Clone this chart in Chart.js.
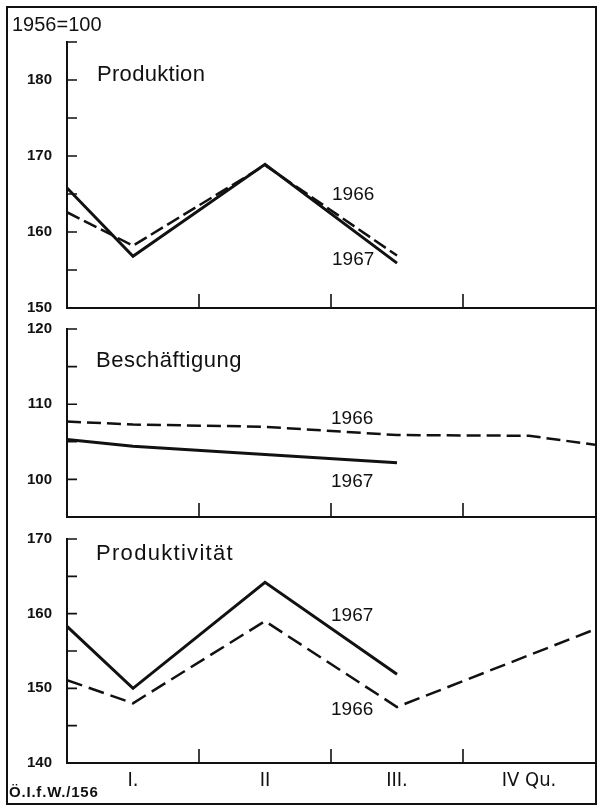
<!DOCTYPE html>
<html><head><meta charset="utf-8">
<script src="https://cdn.jsdelivr.net/npm/chart.js@4.4.1/dist/chart.umd.min.js"></script>
<style>
html,body{margin:0;padding:0;background:#fff;}
#wrap{position:relative;width:610px;height:810px;overflow:hidden;background:#fff;font-family:'Liberation Sans',Arial,sans-serif;color:#111;}
#frame{position:absolute;left:6px;top:6px;width:591px;height:799px;border:2px solid #111;box-sizing:border-box;}
canvas{position:absolute;}
.t{position:absolute;line-height:1;white-space:nowrap;color:#111;}
</style></head><body>
<div id="wrap">
<div id="frame"></div>
<canvas id="c1" width="588" height="290" style="left:7px;top:30px"></canvas>
<canvas id="c2" width="588" height="212" style="left:7px;top:317px"></canvas>
<canvas id="c3" width="588" height="266" style="left:7px;top:527px"></canvas>

<div class="t" style="left:12px;top:14px;font-size:20px;">1956=100</div>
<div class="t" style="left:97px;top:63px;font-size:22px;letter-spacing:0.3px;">Produktion</div>
<div class="t" style="left:96px;top:349px;font-size:22px;letter-spacing:0.5px;">Beschäftigung</div>
<div class="t" style="left:96px;top:542px;font-size:22px;letter-spacing:1.3px;">Produktivität</div>

<div class="t" style="left:332px;top:184px;font-size:19px;">1966</div>
<div class="t" style="left:332px;top:249px;font-size:19px;">1967</div>
<div class="t" style="left:331px;top:408px;font-size:19px;">1966</div>
<div class="t" style="left:331px;top:471px;font-size:19px;">1967</div>
<div class="t" style="left:331px;top:605px;font-size:19px;">1967</div>
<div class="t" style="left:331px;top:699px;font-size:19px;">1966</div>

<div class="t" style="left:9px;top:784px;font-size:15px;font-weight:bold;letter-spacing:0.8px;">Ö.I.f.W./156</div>
</div>
<script>
// ---- data ----
const xTickLabels = ['', 'I.', '', 'II', '', 'III.', '', 'IV Qu.', ''];
const quarterBoundaryTicks = [2, 4, 6];

const produktionX1967 = [0, 1, 3, 5];
const produktion1967 = [165.8, 156.8, 168.9, 155.9];
const produktionX1966 = [0, 1, 3, 5];
const produktion1966 = [162.6, 158.2, 168.8, 156.9];
const produktionYLabels = [150, 160, 170, 180];

const beschaeftigungX1967 = [0, 1, 3, 5];
const beschaeftigung1967 = [105.3, 104.4, 103.3, 102.2];
const beschaeftigungX1966 = [0, 1, 3, 5, 7, 8];
const beschaeftigung1966 = [107.7, 107.3, 107.0, 105.9, 105.8, 104.6];
const beschaeftigungYLabels = [100, 110, 120];

const produktivitaetX1967 = [0, 1, 3, 5];
const produktivitaet1967 = [158.3, 150.0, 164.2, 151.9];
const produktivitaetX1966 = [0, 1, 3, 5, 8];
const produktivitaet1966 = [151.1, 148.0, 159.0, 147.5, 157.9];
const produktivitaetYLabels = [140, 150, 160, 170];

// ---- chart ----
Chart.defaults.font.family = "'Liberation Sans', Arial, sans-serif";
Chart.defaults.color = '#111';

const innerTicks = {
  id: 'innerTicks',
  afterDraw(chart) {
    const {ctx, chartArea: a, scales: {x, y}} = chart;
    ctx.save();
    ctx.strokeStyle = '#111';
    ctx.lineWidth = 1.6;
    ctx.beginPath();
    y.ticks.forEach(t => {
      if (t.value === y.min) return;
      const py = y.getPixelForValue(t.value);
      ctx.moveTo(a.left, py); ctx.lineTo(a.left + 10, py);
    });
    quarterBoundaryTicks.forEach(v => {
      const px = x.getPixelForValue(v);
      ctx.moveTo(px, a.bottom); ctx.lineTo(px, a.bottom - 14);
    });
    ctx.stroke();
    ctx.restore();
  }
};

function series(xs, ys, dashed, dash) {
  return {
    data: xs.map((x, i) => ({x: x, y: ys[i]})),
    borderColor: '#111',
    borderWidth: dashed ? 2.5 : 3,
    borderDash: dashed ? dash : [],
    borderJoinStyle: 'miter',
    pointRadius: 0,
    tension: 0,
    fill: false
  };
}

function makeChart(id, datasets, yMin, yMax, yLabels, showX, padBottom) {
  return new Chart(document.getElementById(id), {
    type: 'line',
    data: {datasets: datasets},
    options: {
      responsive: false,
      animation: false,
      layout: {padding: {top: 12, bottom: padBottom, left: 0, right: 0}},
      plugins: {legend: {display: false}, tooltip: {enabled: false}},
      scales: {
        x: {
          type: 'linear', min: 0, max: 8,
          ticks: {
            display: showX, stepSize: 1, autoSkip: false, maxRotation: 0, minRotation: 0, padding: 0,
            font: {family: "'Liberation Sans Narrow', 'DejaVu Sans Condensed', sans-serif", size: 20},
            color: '#111',
            callback: (v) => xTickLabels[v] !== undefined ? xTickLabels[v] : ''
          },
          grid: {display: true, drawOnChartArea: false, drawTicks: showX, tickLength: 6, color: 'rgba(0,0,0,0)'},
          border: {display: true, color: '#111', width: 2}
        },
        y: {
          min: yMin, max: yMax,
          ticks: {
            stepSize: 5, padding: 2, autoSkip: false,
            font: {size: 15, weight: 'bold'}, color: '#111',
            callback: (v) => yLabels.includes(v) ? String(v) : ''
          },
          grid: {display: true, drawOnChartArea: false, drawTicks: true, tickLength: 13, color: 'rgba(0,0,0,0)'},
          border: {display: true, color: '#111', width: 2},
          afterFit: (s) => { s.width = 60; }
        }
      }
    },
    plugins: [innerTicks]
  });
}

makeChart('c1', [
  series(produktionX1967, produktion1967, false),
  series(produktionX1966, produktion1966, true, [14, 5])
], 150, 185, produktionYLabels, false, 12);

makeChart('c2', [
  series(beschaeftigungX1967, beschaeftigung1967, false),
  series(beschaeftigungX1966, beschaeftigung1966, true, [14, 6])
], 95, 120, beschaeftigungYLabels, false, 12);

makeChart('c3', [
  series(produktivitaetX1967, produktivitaet1967, false),
  series(produktivitaetX1966, produktivitaet1966, true, [16, 7])
], 140, 170, produktivitaetYLabels, true, 0);
</script>
</body></html>
